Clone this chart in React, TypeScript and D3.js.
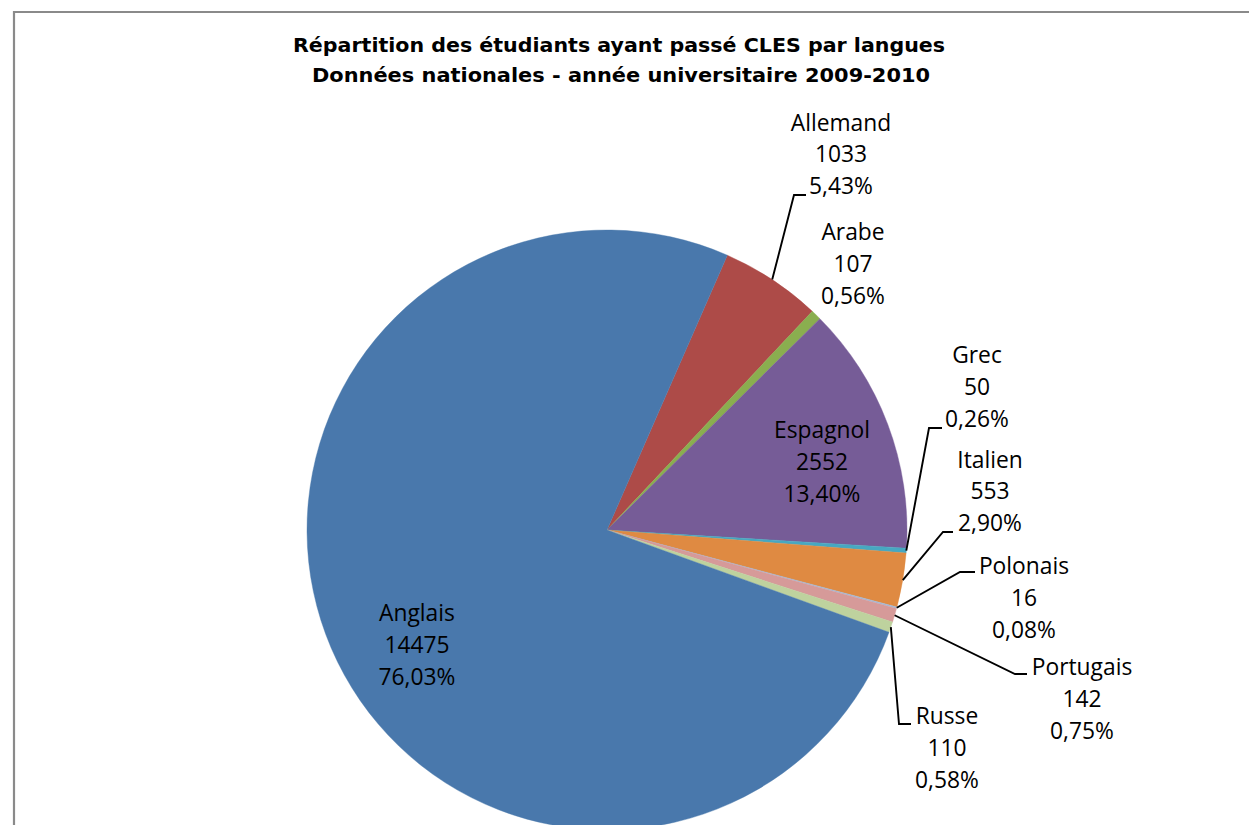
import React from "react";
import * as d3 from "d3";

const categories = ["Allemand", "Arabe", "Espagnol", "Grec", "Italien", "Polonais", "Portugais", "Russe", "Anglais"];
const values = [1033, 107, 2552, 50, 553, 16, 142, 110, 14475];
const colors = ["#ad4b48", "#8aae4f", "#765c97", "#47a8c1", "#df8a42", "#a4b9d6", "#d69a99", "#bed29e", "#4978ac"];
const titleLines = [
  "Répartition des étudiants ayant passé CLES par langues",
  "Données nationales -  année universitaire 2009-2010",
];

// label layout: text centre x, first baseline y, optional leader elbow (x, y, end x)
const labelLayout: Record<string, { x: number; y: number; elbow?: [number, number, number] }> = {
  Allemand: { x: 841, y: 130.5, elbow: [794, 195, 806] },
  Arabe: { x: 853, y: 240 },
  Espagnol: { x: 822, y: 438 },
  Grec: { x: 977, y: 363, elbow: [929, 428, 942] },
  Italien: { x: 990, y: 467.5, elbow: [943, 532, 953] },
  Polonais: { x: 1024, y: 574, elbow: [960, 572, 975] },
  Portugais: { x: 1082, y: 675, elbow: [1015, 674, 1027] },
  Russe: { x: 947, y: 724, elbow: [899, 724, 911] },
  Anglais: { x: 417, y: 621 },
};

const W = 1249;
const H = 825;
const cx = 607;
const cy = 530;
const R = 300;
const startDeg = 23.65;

export default function App() {
  const total = d3.sum(values);
  const data = categories.map((c, i) => ({ name: c, value: values[i], color: colors[i] }));
  const pie = d3
    .pie<{ name: string; value: number; color: string }>()
    .sort(null)
    .value((d) => d.value)
    .startAngle((startDeg * Math.PI) / 180)
    .endAngle((startDeg * Math.PI) / 180 + 2 * Math.PI);
  const arcs = pie(data);
  const arcGen = d3.arc<d3.PieArcDatum<any>>().innerRadius(0).outerRadius(R);
  const lineGen = d3.line();
  const lineH = 31.8;
  const fmt = (v: number) => ((v / total) * 100).toFixed(2).replace(".", ",") + "%";

  return (
    <svg
      width={W}
      height={H}
      style={{ position: "absolute", left: 0, top: 0, background: "#fff" }}
      xmlns="http://www.w3.org/2000/svg"
    >
      <rect x={0} y={0} width={W} height={H} fill="#fff" />
      <path d={`M14,${H + 5} L14,12 L${W + 5},12`} fill="none" stroke="#8a8a8a" strokeWidth={2.2} />
      <g fontFamily="'Comic Sans MS', 'DejaVu Sans', sans-serif" fontWeight="bold" fontSize={20} fill="#000" textAnchor="middle" style={{ whiteSpace: "pre" }}>
        <text x={619} y={52} textLength={652} lengthAdjust="spacingAndGlyphs">{titleLines[0]}</text>
        <text x={621} y={82} textLength={618} lengthAdjust="spacingAndGlyphs">{titleLines[1]}</text>
      </g>
      <g transform={`translate(${cx},${cy})`}>
        {arcs.map((a) => (
          <path key={a.data.name} d={arcGen(a) as string} fill={a.data.color} stroke={a.data.color} strokeWidth={0.4} />
        ))}
      </g>
      <g fill="none" stroke="#000" strokeWidth={1.9}>
        {arcs.map((a) => {
          const L = labelLayout[a.data.name];
          if (!L.elbow) return null;
          const mid = (a.startAngle + a.endAngle) / 2;
          const px = cx + R * Math.sin(mid);
          const py = cy - R * Math.cos(mid);
          const [ex, ey, hx] = L.elbow;
          return (
            <path
              key={a.data.name}
              d={lineGen([
                [px, py],
                [ex, ey],
                [hx, ey],
              ]) as string}
            />
          );
        })}
      </g>
      <g fontFamily="'Open Sans', 'Noto Sans', sans-serif" fontSize={22.8} fill="#000" textAnchor="middle">
        {arcs.map((a) => {
          const L = labelLayout[a.data.name];
          const lines = [a.data.name, String(a.data.value), fmt(a.data.value)];
          return (
            <text key={a.data.name}>
              {lines.map((t, i) => (
                <tspan key={i} x={L.x} y={L.y + i * lineH}>
                  {t}
                </tspan>
              ))}
            </text>
          );
        })}
      </g>
    </svg>
  );
}
